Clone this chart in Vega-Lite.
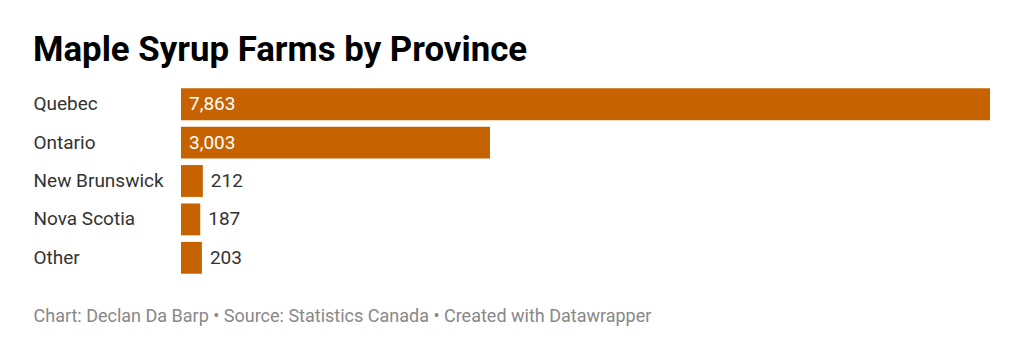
{
  "$schema": "https://vega.github.io/schema/vega-lite/v6.json",
  "width": 809,
  "height": 192,
  "autosize": "none",
  "padding": {"left": 181, "top": 85, "right": 34, "bottom": 81},
  "background": "white",
  "config": {"view": {"stroke": null}, "font": "Roboto"},
  "title": {
    "text": "Maple Syrup Farms by Province",
    "anchor": "start",
    "frame": "group",
    "dx": -148,
    "offset": -11,
    "baseline": "alphabetic",
    "fontSize": 34.8,
    "fontWeight": "bold",
    "font": "Roboto",
    "color": "#000000"
  },
  "data": {
    "values": [
      {"province": "Quebec", "farms": 7863},
      {"province": "Ontario", "farms": 3003},
      {"province": "New Brunswick", "farms": 212},
      {"province": "Nova Scotia", "farms": 187},
      {"province": "Other", "farms": 203}
    ]
  },
  "encoding": {
    "y": {
      "field": "province",
      "type": "nominal",
      "sort": null,
      "scale": {"paddingInner": 0.17, "paddingOuter": 0.085},
      "axis": {
        "title": null,
        "domain": false,
        "ticks": false,
        "labelAlign": "left",
        "labelPadding": 148,
        "labelFontSize": 19,
        "labelColor": "#333333",
        "labelFont": "Roboto"
      }
    },
    "x": {
      "field": "farms",
      "type": "quantitative",
      "scale": {"domain": [0, 7863], "nice": false},
      "axis": {
        "title": "Chart: Declan Da Barp • Source: Statistics Canada • Created with Datawrapper",
        "labels": false,
        "ticks": false,
        "domain": false,
        "grid": false,
        "titleAnchor": "start",
        "titleAlign": "left",
        "titleBaseline": "alphabetic",
        "titleX": -148,
        "titleY": 44,
        "titleFontSize": 18,
        "titleFontWeight": "normal",
        "titleColor": "#888888",
        "titleFont": "Roboto"
      }
    }
  },
  "layer": [
    {"mark": {"type": "bar", "color": "#c66300"}},
    {
      "transform": [{"filter": "datum.farms > 1000"}],
      "mark": {"type": "text", "align": "left", "dx": 8, "fontSize": 19, "color": "#ffffff", "font": "Roboto"},
      "encoding": {
        "x": {"datum": 0, "type": "quantitative"},
        "text": {"field": "farms", "type": "quantitative", "format": ","}
      }
    },
    {
      "transform": [{"filter": "datum.farms <= 1000"}],
      "mark": {"type": "text", "align": "left", "dx": 8, "fontSize": 19, "color": "#333333", "font": "Roboto"},
      "encoding": {
        "text": {"field": "farms", "type": "quantitative", "format": ","}
      }
    }
  ]
}
